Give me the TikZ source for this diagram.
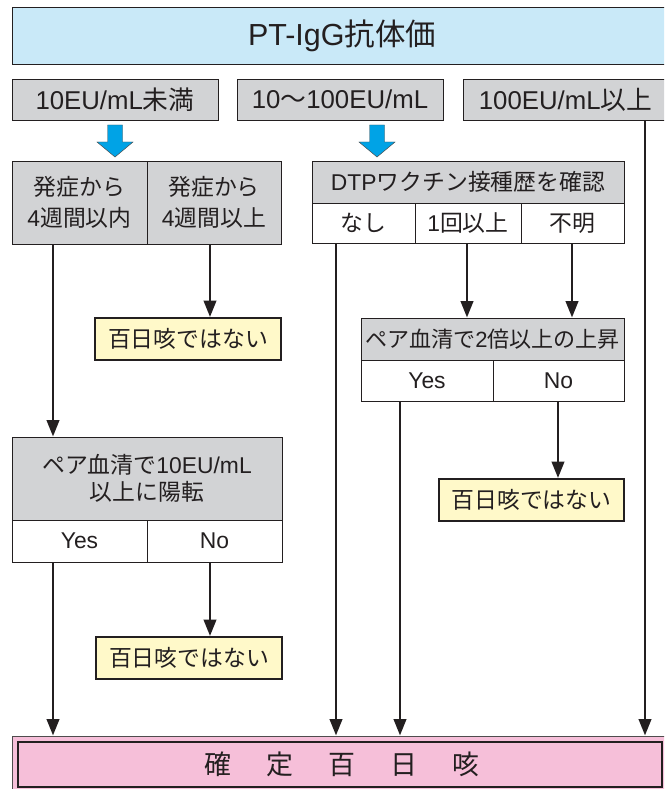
\documentclass[tikz,border=0pt]{standalone}
\usepackage{fontspec}
\setmainfont{Noto Sans CJK JP}
\newfontfamily\latin{Liberation Sans}
\usetikzlibrary{arrows.meta}
\definecolor{titleblue}{HTML}{C9E9F8}
\definecolor{boxgray}{HTML}{D2D3D5}
\definecolor{noteyellow}{HTML}{FFF9C9}
\definecolor{finalpink}{HTML}{F6BFD9}
\definecolor{arrowcyan}{HTML}{00A3E6}
\definecolor{ink}{HTML}{231F20}
\def\bluearrow(#1,#2){\draw[fill=arrowcyan, draw=black!70, line width=0.4pt] (#1-7.5,#2) -- (#1+7.5,#2) -- (#1+7.5,#2+17) -- (#1+18,#2+17) -- (#1,#2+32) -- (#1-18,#2+17) -- (#1-7.5,#2+17) -- cycle;}
\tikzset{
  span/.style args={#1/#2/#3/#4}{minimum width={(#3-#1)*0.03cm}, minimum height={(#4-#2)*0.03cm}, at={({(#1+#3)/2},{(#2+#4)/2})}},
  box/.style={draw=ink, line width=0.7pt, inner sep=0pt, align=center, text=ink, font=\fontsize{19.5}{25}\selectfont},
  graybox/.style={box, fill=boxgray},
  whitebox/.style={box, fill=white},
  notebox/.style={box, fill=noteyellow, line width=1.6pt},
  flow/.style={draw=ink, line width=2.4pt, -{Triangle[width=10.5pt,length=14pt]}}
}

\begin{document}
\begin{tikzpicture}[x=0.03cm, y=-0.03cm]
		%%%%% START %%%%%
		\useasboundingbox (0,0) rectangle (664,789);
		\clip (0,0) rectangle (664,789);
		
		\node[box, fill=titleblue, span=12/7/672/64, font=\fontsize{26}{30}\selectfont] (title) {{\latin PT-IgG}抗体価};
		
		\node[graybox, span=12/79/218/120, font=\fontsize{22}{26}\selectfont] (low) {{\latin 10EU/mL}未満};
		\node[graybox, span=237/79/443/120, font=\fontsize{22}{26}\selectfont] (mid) {{\latin 10}〜{\latin 100EU/mL}};
		\node[graybox, span=463/79/668/120, font=\fontsize{22}{26}\selectfont] (high) {{\latin 100EU/mL}以上};
		
		\bluearrow(115,125)
		\bluearrow(377,125)
		
		\node[graybox, span=12/161/147/244, font=\fontsize{19.5}{27}\selectfont] (within) {発症から\\{\latin 4}週間以内};
		\node[graybox, span=147/161/281/244, font=\fontsize{19.5}{27}\selectfont] (over) {発症から\\{\latin 4}週間以上};
		
		\node[graybox, span=312/161/624/203] (dtp) {{\latin DTP}ワクチン接種歴を確認};
		\node[whitebox, span=312/203/415/243] (none) {なし};
		\node[whitebox, span=415/203/521/243] (once) {{\latin 1}回以上};
		\node[whitebox, span=521/203/624/243] (unknown) {不明};
		
		\node[notebox, span=95/318/281/360] (notA) {百日咳ではない};
		
		\node[graybox, span=361/318/624/360, font=\fontsize{18.8}{24}\selectfont] (pairB) {ペア血清で{\latin 2}倍以上の上昇};
		\node[whitebox, span=361/360/493/401] (yesB) {\latin Yes};
		\node[whitebox, span=493/360/624/401] (noB) {\latin No};
		\node[notebox, span=439/479/624/521] (notB) {百日咳ではない};
		
		\node[graybox, span=12/437/282/520, font=\fontsize{19.5}{23}\selectfont] (pairA) {ペア血清で{\latin 10EU/mL}\\以上に陽転};
		\node[whitebox, span=12/520/147/562] (yesA) {\latin Yes};
		\node[whitebox, span=147/520/282/562] (noA) {\latin No};
		\node[notebox, span=96/637/282/679] (notC) {百日咳ではない};
		
		\node[draw=ink!80, line width=0.8pt, fill=finalpink, inner sep=0pt, span=12/736/672/793, text=ink, font=\fontsize{23}{27}\selectfont] (final) {確\hspace{30pt}定\hspace{30pt}百\hspace{30pt}日\hspace{30pt}咳};
		\draw[draw=ink, line width=1.7pt] (18,742) rectangle (662,787);
		
		\coordinate (colA) at (53,0);
		\coordinate (colB) at (210,0);
		\coordinate (colC) at (336,0);
		\coordinate (colD) at (400,0);
		\coordinate (colE) at (467,0);
		\coordinate (colF) at (558,0);
		\coordinate (colG) at (572,0);
		\coordinate (colH) at (645,0);
		
		\draw[flow] (colA |- within.south) -- (colA |- pairA.north);
		\draw[flow] (colB |- over.south) -- (colB |- notA.north);
		\draw[flow] (colC |- none.south) -- (colC |- final.north);
		\draw[flow] (colE |- once.south) -- (colE |- pairB.north);
		\draw[flow] (colG |- unknown.south) -- (colG |- pairB.north);
		\draw[flow] (colH |- high.south) -- (colH |- final.north);
		\draw[flow] (colD |- yesB.south) -- (colD |- final.north);
		\draw[flow] (colF |- noB.south) -- (colF |- notB.north);
		\draw[flow] (colA |- yesA.south) -- (colA |- final.north);
		\draw[flow] (colB |- noA.south) -- (colB |- notC.north);
		
		%%%%% END %%%%%
\end{tikzpicture}
\end{document}
